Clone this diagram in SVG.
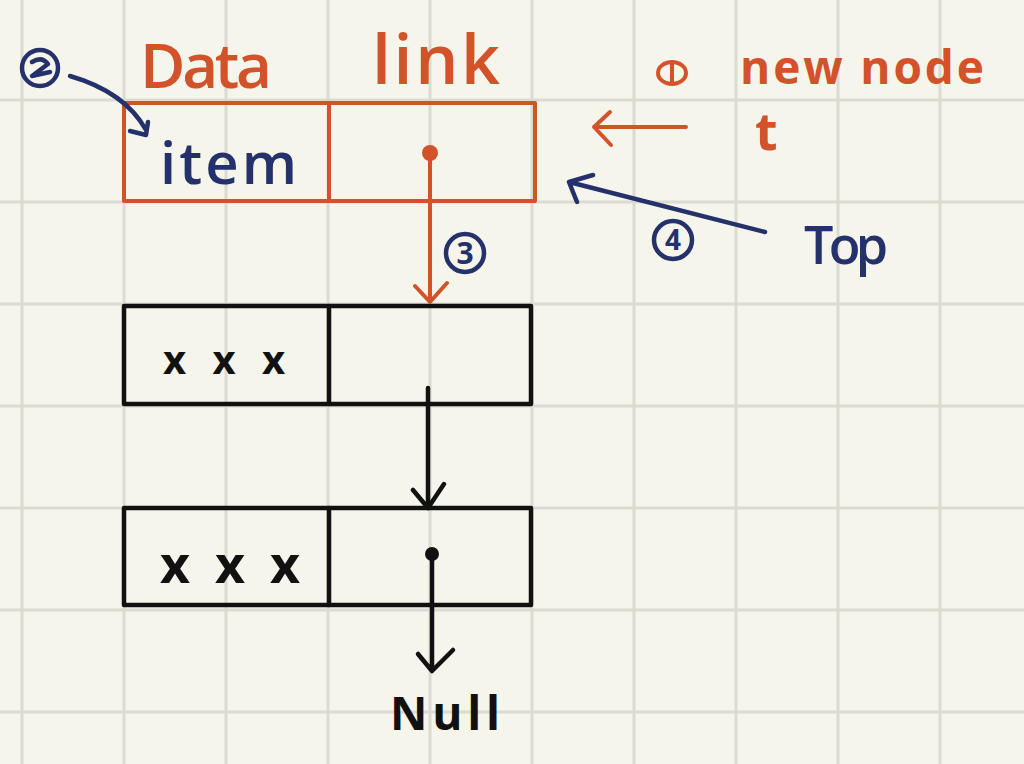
<svg xmlns="http://www.w3.org/2000/svg" width="1024" height="764" viewBox="0 0 1024 764">
<style>
.grid{stroke:#dcdbd1;stroke-width:3}
.or{stroke:#d2522a;fill:none;stroke-width:4;stroke-linecap:round;stroke-linejoin:round}
.bl{stroke:#111;fill:none;stroke-width:4.5;stroke-linecap:round;stroke-linejoin:round}
.nv{stroke:#25316a;fill:none;stroke-width:4.5;stroke-linecap:round;stroke-linejoin:round}
.t{font-family:"Open Sans","Liberation Sans",sans-serif;font-weight:600}
.b{font-weight:700}
.tor{fill:#d2522a}
.tnv{fill:#25316a}
.tbl{fill:#111}
</style>
<rect width="1024" height="764" fill="#f6f5eb"/>
<g id="grid">
<path class="grid" d="M22,0V764M124,0V764M226,0V764M328,0V764M430,0V764M532,0V764M634,0V764M736,0V764M838,0V764M940,0V764M0,100H1024M0,202H1024M0,304H1024M0,406H1024M0,508H1024M0,610H1024M0,712H1024"/>
</g>
<g id="header-labels">
<text class="t tor" x="140" y="88" font-size="62" textLength="132">Data</text>
<text class="t tor" x="372" y="84" font-size="68" textLength="128">link</text>
</g>
<g id="node-new">
<rect class="or" x="124" y="103" width="411" height="98"/>
<line class="or" x1="329" y1="103" x2="329" y2="201"/>
<text class="t tnv" x="160" y="184" font-size="58" textLength="137">item</text>
<circle cx="430" cy="153" r="8" fill="#d2522a"/>
</g>
<g id="node-1">
<rect class="bl" x="124" y="306" width="407" height="98"/>
<line class="bl" x1="329" y1="306" x2="329" y2="404"/>
<text class="t b tbl" x="163" y="374" font-size="40" textLength="122">x x x</text>
</g>
<g id="node-2">
<rect class="bl" x="124" y="508" width="407" height="97"/>
<line class="bl" x1="329" y1="508" x2="329" y2="605"/>
<text class="t b tbl" x="160" y="583" font-size="52" textLength="140">x x x</text>
<circle cx="432" cy="554" r="7" fill="#111"/>
</g>
<g id="null-label">
<text class="t b tbl" x="390" y="730" font-size="46" textLength="110">Null</text>
</g>
<g id="new-node-label">
<ellipse class="or" cx="672" cy="73" rx="14" ry="11"/>
<line class="or" x1="672" y1="64" x2="672" y2="83" stroke-width="3"/>
<text class="t b tor" x="740" y="84" font-size="46" textLength="244">new node</text>
<text class="t b tor" x="755" y="150" font-size="52" textLength="43">t</text>
</g>
<g id="top-label">
<text class="t tnv" x="804" y="264" font-size="52" textLength="84">Top</text>
</g>
<g id="step-2">
<circle class="nv" cx="40" cy="68" r="18"/>
<path class="nv" d="M32,62Q42,56 48,64L32,76L50,72" stroke-width="4"/>
</g>
<g id="step-3">
<circle class="nv" cx="465" cy="253" r="19"/>
<text class="t b tnv" x="465" y="264" font-size="30" text-anchor="middle">3</text>
</g>
<g id="step-4">
<circle class="nv" cx="673" cy="240" r="19"/>
<text class="t b tnv" x="673" y="250" font-size="28" text-anchor="middle">4</text>
</g>
<g id="connectors">
<path class="or" d="M430,153V302M415,286L430,302L447,283"/>
<path class="bl" d="M428,388V508M413,490L428,508L444,484"/>
<path class="bl" d="M432,554V670M418,654L432,671L453,650"/>
<path class="or" d="M686,127H594M610,112L594,127L611,145"/>
<path class="nv" d="M765,232L569,182M593,175L569,182L577,202"/>
<path class="nv" d="M70,76Q125,92 146,130M130,131L146,135L148,122"/>
</g>
</svg>
